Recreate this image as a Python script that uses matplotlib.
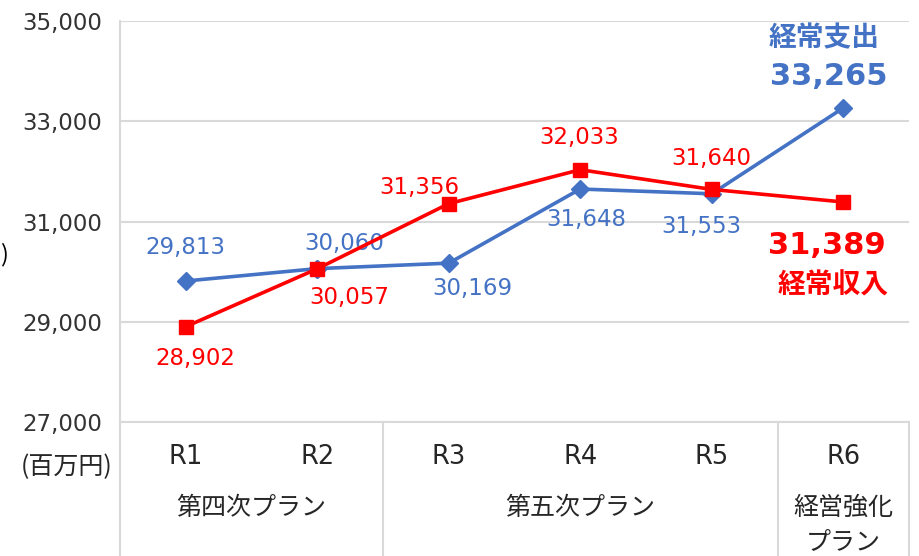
import matplotlib
matplotlib.use('Agg')
import matplotlib.pyplot as plt

plt.rcParams['font.family'] = ['Noto Sans CJK JP', 'DejaVu Sans']
NUM = 'DejaVu Sans'   # wide latin glyphs, close to the original's Meiryo look

# data
years = ['R1', 'R2', 'R3', 'R4', 'R5', 'R6']
expense = [29813, 30060, 30169, 31648, 31553, 33265]   # 経常支出
income = [28902, 30057, 31356, 32033, 31640, 31389]    # 経常収入
groups = ['第四次プラン', '第五次プラン', '経営強化\nプラン']
group_spans = [(0, 1), (2, 4), (5, 5)]
yticks = [27000, 29000, 31000, 33000, 35000]

blue = '#4472C4'
red = '#FF0000'
grid = '#D9D9D9'
txt = '#262626'

W, H = 919, 556
fig = plt.figure(figsize=(W / 100, H / 100), dpi=100)
ax = fig.add_axes([120 / W, (H - 422) / H, (909 - 120) / W, (422 - 21) / H])

x = list(range(len(years)))
ax.set_xlim(-0.5, len(years) - 0.5)
ax.set_ylim(27000, 35000)
ax.set_yticks(yticks)
ax.set_yticklabels([f'{v:,}' for v in yticks], fontsize=16.5, color='#333333',
                   family=NUM)
ax.set_xticks([])
ax.tick_params(axis='y', length=0, pad=13)
for s in ['top', 'right', 'bottom']:
    ax.spines[s].set_visible(False)
ax.spines['left'].set_color(grid)
ax.spines['left'].set_linewidth(1.5)
ax.yaxis.grid(True, color=grid, linewidth=1.5)
ax.set_axisbelow(True)

ax.plot(x, expense, color=blue, lw=2.6, marker='D', ms=9, zorder=3)
ax.plot(x, income, color=red, lw=2.6, marker='s', ms=9.5, zorder=4)
ax.plot(x[1], expense[1], color=blue, marker='D', ms=9, zorder=3.5)

# data labels (offsets in pixels)
exp_off = [(0, 33), (27, 25), (24, -25), (6, -30), (-10, -33)]
inc_off = [(10, -32), (32, -29), (-29, 16), (-1, 32), (0, 31)]
for i, (dx, dy) in enumerate(exp_off):
    ax.annotate(f'{expense[i]:,}', (x[i], expense[i]), xytext=(dx, dy),
                textcoords='offset pixels', ha='center', va='center',
                fontsize=16.5, color=blue, family=NUM)
for i, (dx, dy) in enumerate(inc_off):
    ax.annotate(f'{income[i]:,}', (x[i], income[i]), xytext=(dx, dy),
                textcoords='offset pixels', ha='center', va='center',
                fontsize=16.5, color=red, family=NUM)

ax.annotate(f'{expense[5]:,}', (x[5], expense[5]), xytext=(-15, 31),
            textcoords='offset pixels', ha='center', va='center',
            fontsize=22, fontweight='bold', color=blue, family=NUM)
ax.annotate('経常支出', (x[5], expense[5]), xytext=(-19, 70),
            textcoords='offset pixels', ha='center', va='center',
            fontsize=20, fontweight='bold', color=blue)
ax.annotate(f'{income[5]:,}', (x[5], income[5]), xytext=(-16, -43),
            textcoords='offset pixels', ha='center', va='center',
            fontsize=22, fontweight='bold', color=red, family=NUM)
ax.annotate('経常収入', (x[5], income[5]), xytext=(-10, -84),
            textcoords='offset pixels', ha='center', va='center',
            fontsize=20, fontweight='bold', color=red)

# category table below the axis (1 px = 20 units on the y scale)
bottom = 27000 - 2680
ax.plot([-0.5, 5.5], [27000, 27000], color=grid, lw=1.5, clip_on=False)
for xv in [-0.5, 1.5, 4.5, 5.5]:
    ax.plot([xv, xv], [27000, bottom], color=grid, lw=1.5, clip_on=False)
for i, lab in enumerate(years):
    ax.text(i, 27000 - 35 * 20, lab, ha='center', va='center',
            fontsize=18.5, color=txt, family=NUM)
for lab, (a, b) in zip(groups, group_spans):
    lines = lab.split('\n')
    for k, line in enumerate(lines):
        ax.text((a + b) / 2, 27000 - (86 + 34 * k) * 20, line,
                ha='center', va='center', fontsize=18, color=txt)

fig.text(67 / W, 1 - 467 / H, '(百万円)', ha='center', va='center',
         fontsize=18, color=txt)
fig.text(0, 1 - 255 / H, ')', ha='left', va='center',
         fontsize=17, color='black')

fig.savefig('out.png', dpi=100)
